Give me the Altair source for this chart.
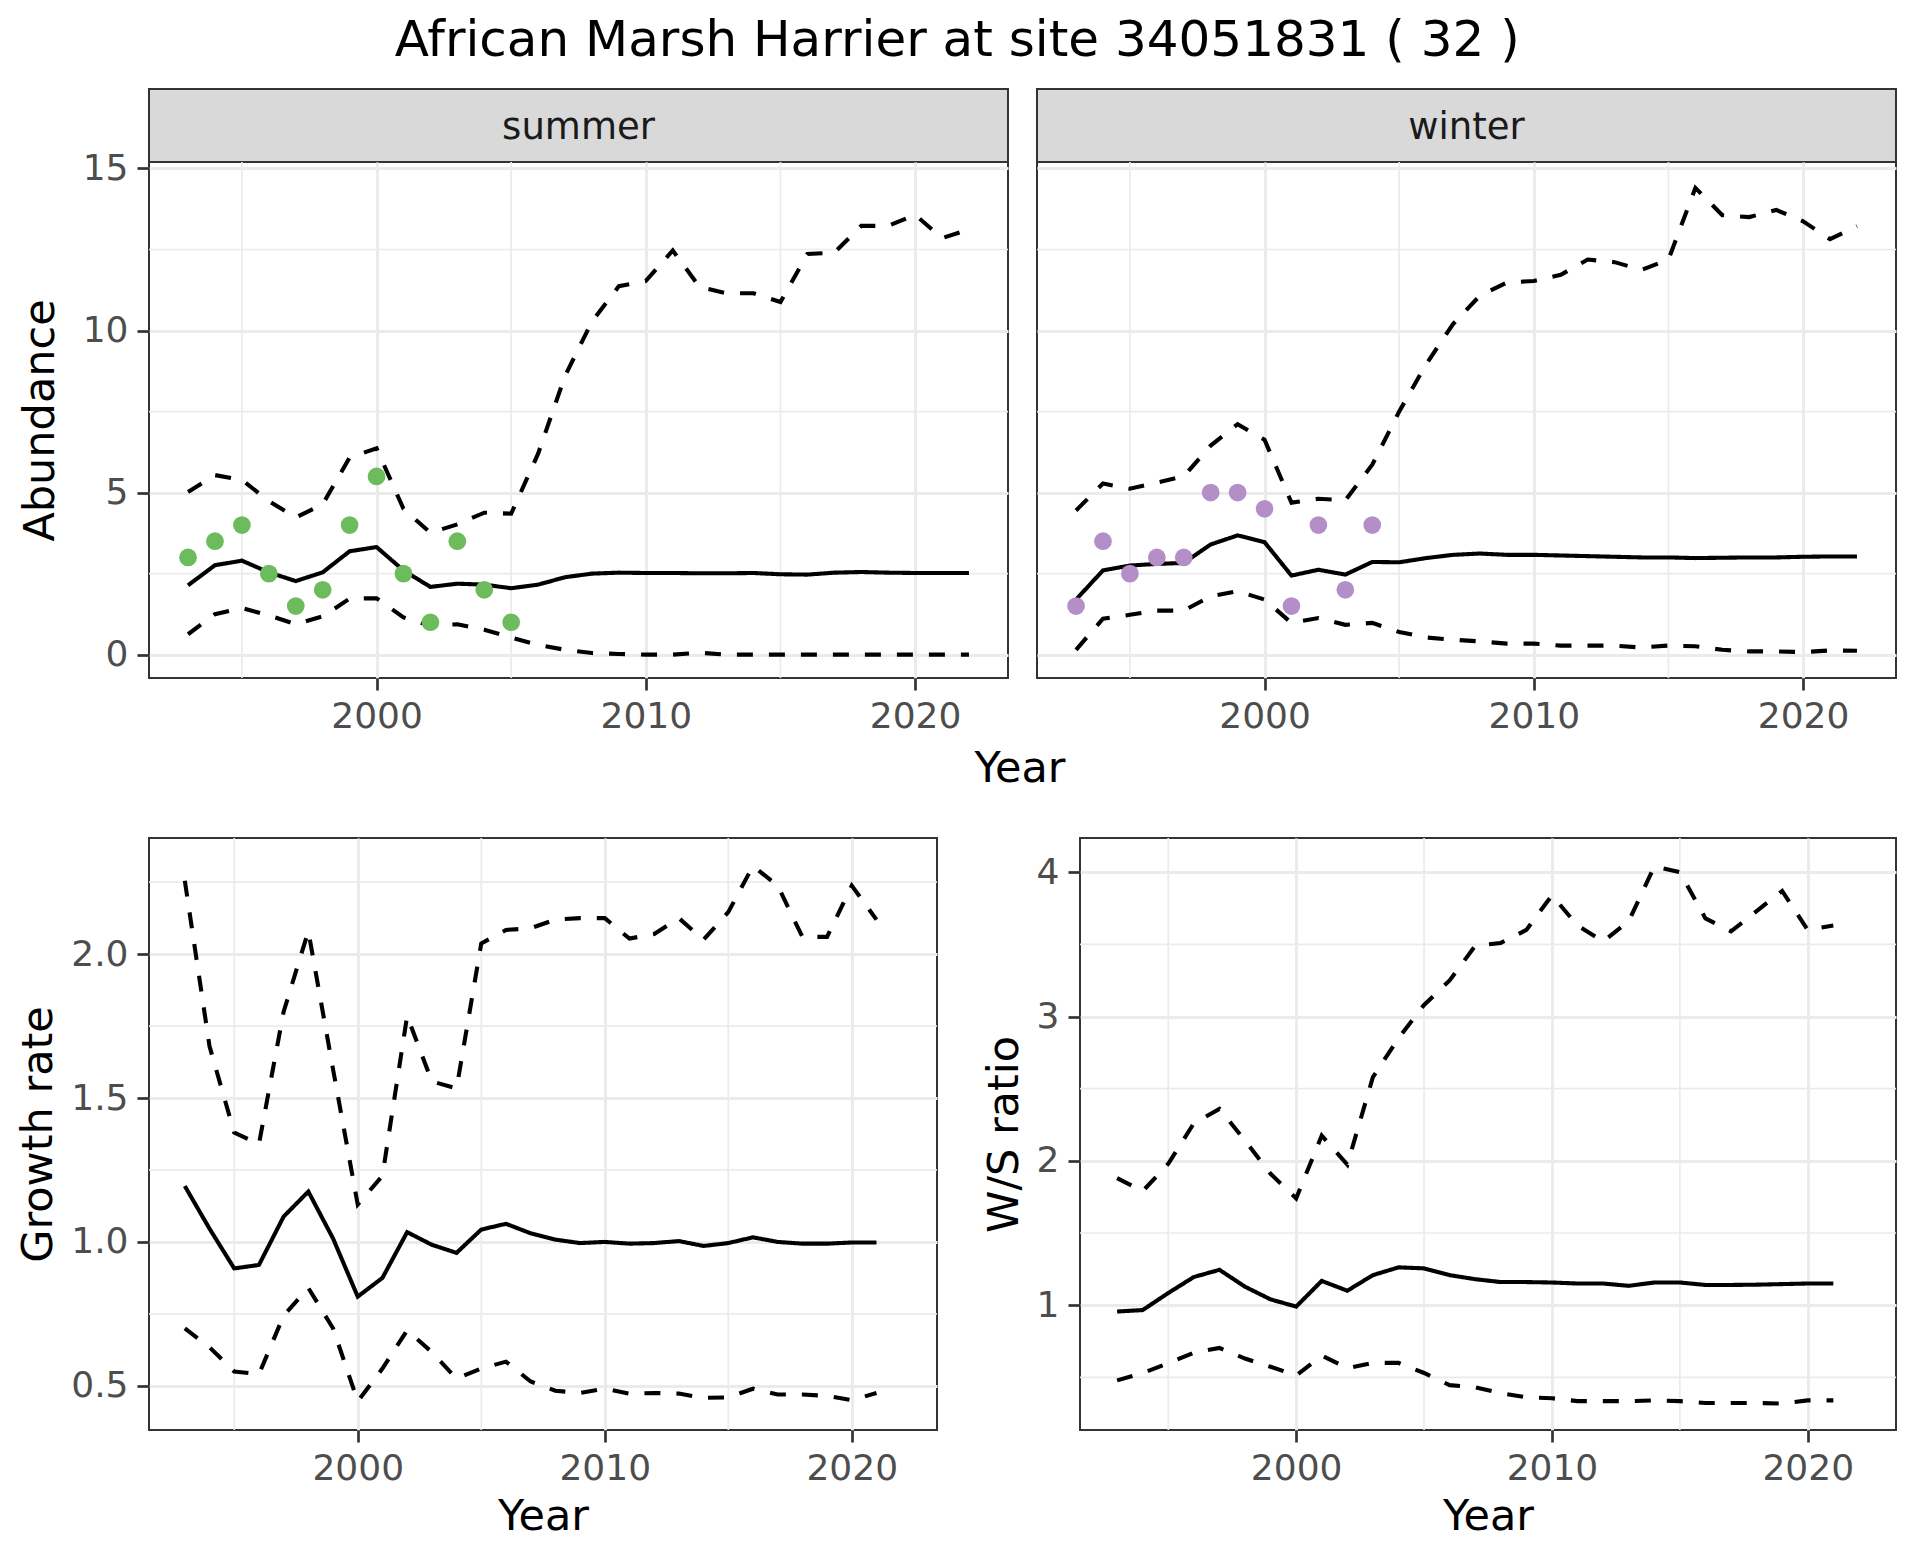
import altair as alt
import pandas as pd

FONT = "DejaVu Sans"
GRID = "#EBEBEB"
BORDER = "#333333"

YEARS = list(range(1993, 2023))
GR_YEARS = list(range(1993, 2022))
X_TICKS = [2000, 2010, 2020]
X_MINOR = [1995, 2005, 2015]
X_DOMAIN = [1991.55, 2023.45]

SUMMER_LO = [0.63, 1.25, 1.44, 1.21, 0.94, 1.18, 1.73, 1.74, 1.15, 0.89,
             0.94, 0.77, 0.53, 0.30, 0.15, 0.05, 0.02, 0.0, 0.0, 0.06,
             0.0, 0.0, 0.0, 0.0, 0.0, 0.0, 0.0, 0.0, 0.0, 0.0]
SUMMER_MED = [2.14, 2.76, 2.90, 2.54, 2.27, 2.54, 3.19, 3.32, 2.60, 2.09,
              2.19, 2.16, 2.05, 2.16, 2.39, 2.50, 2.53, 2.52, 2.52, 2.51,
              2.51, 2.52, 2.48, 2.47, 2.53, 2.55, 2.53, 2.52, 2.52, 2.52]
SUMMER_HI = [5.02, 5.54, 5.39, 4.74, 4.23, 4.64, 6.08, 6.37, 4.50, 3.76,
             4.02, 4.38, 4.35, 6.20, 8.60, 10.28, 11.37, 11.53, 12.47, 11.34,
             11.15, 11.15, 10.88, 12.36, 12.40, 13.23, 13.23, 13.57, 12.85, 13.12]
SUMMER_OBS_YEARS = [1993, 1994, 1995, 1996, 1997, 1998, 1999, 2000, 2001, 2002, 2003, 2004, 2005]
SUMMER_OBS = [3, 3.5, 4, 2.5, 1.5, 2, 4, 5.5, 2.5, 1, 3.5, 2, 1]

WINTER_LO = [0.15, 1.11, 1.23, 1.36, 1.36, 1.80, 1.96, 1.70, 0.98, 1.13,
             0.92, 0.98, 0.70, 0.53, 0.46, 0.41, 0.34, 0.34, 0.28, 0.28,
             0.28, 0.22, 0.28, 0.26, 0.15, 0.10, 0.10, 0.08, 0.13, 0.12]
WINTER_MED = [1.70, 2.60, 2.75, 2.80, 2.83, 3.40, 3.68, 3.47, 2.44, 2.62,
              2.47, 2.86, 2.85, 2.98, 3.08, 3.12, 3.08, 3.08, 3.06, 3.04,
              3.02, 3.00, 3.00, 2.98, 2.99, 3.00, 3.00, 3.02, 3.03, 3.03]
WINTER_HI = [4.45, 5.28, 5.12, 5.31, 5.50, 6.45, 7.11, 6.63, 4.69, 4.81,
             4.76, 5.86, 7.50, 8.96, 10.20, 11.08, 11.48, 11.53, 11.72, 12.19,
             12.11, 11.87, 12.19, 14.40, 13.56, 13.50, 13.72, 13.37, 12.82, 13.22]
WINTER_OBS_YEARS = [1993, 1994, 1995, 1996, 1997, 1998, 1999, 2000, 2001, 2002, 2003, 2004]
WINTER_OBS = [1.5, 3.5, 2.5, 3, 3, 5, 5, 4.5, 1.5, 4, 2, 4]

GR_LO = [0.70, 0.634, 0.55, 0.54, 0.744, 0.84, 0.70, 0.446, 0.56, 0.693,
         0.617, 0.525, 0.56, 0.584, 0.515, 0.483, 0.475, 0.49, 0.473, 0.475,
         0.473, 0.458, 0.46, 0.49, 0.47, 0.47, 0.465, 0.45, 0.475]
GR_MED = [1.194, 1.046, 0.908, 0.92, 1.088, 1.175, 1.012, 0.81, 0.875, 1.034,
          0.99, 0.962, 1.043, 1.063, 1.03, 1.008, 0.996, 1.0, 0.994, 0.996,
          1.003, 0.986, 0.996, 1.016, 1.0, 0.994, 0.994, 0.998, 0.998]
GR_HI = [2.255, 1.68, 1.38, 1.34, 1.80, 2.08, 1.60, 1.13, 1.23, 1.785,
         1.558, 1.533, 2.037, 2.084, 2.09, 2.12, 2.125, 2.125, 2.054, 2.07,
         2.125, 2.05, 2.146, 2.306, 2.238, 2.06, 2.06, 2.238, 2.12]

WS_LO = [0.479, 0.53, 0.597, 0.671, 0.704, 0.63, 0.573, 0.513, 0.65, 0.564,
         0.60, 0.60, 0.53, 0.446, 0.43, 0.39, 0.362, 0.355, 0.335, 0.335,
         0.335, 0.34, 0.335, 0.322, 0.322, 0.322, 0.318, 0.34, 0.34]
WS_MED = [0.956, 0.966, 1.084, 1.195, 1.245, 1.128, 1.04, 0.99, 1.168, 1.10,
          1.208, 1.262, 1.255, 1.208, 1.18, 1.16, 1.16, 1.157, 1.15, 1.15,
          1.134, 1.157, 1.157, 1.14, 1.14, 1.142, 1.146, 1.15, 1.15]
WS_HI = [1.88, 1.79, 1.98, 2.26, 2.36, 2.14, 1.91, 1.74, 2.175, 1.974,
         2.58, 2.85, 3.08, 3.25, 3.49, 3.51, 3.60, 3.84, 3.63, 3.52,
         3.66, 4.04, 4.00, 3.68, 3.59, 3.73, 3.87, 3.60, 3.63]

AB_TICKS = [0, 5, 10, 15]
AB_MINOR = [2.5, 7.5, 12.5]
GR_TICKS = [0.5, 1.0, 1.5, 2.0]
GR_MINOR = [0.75, 1.25, 1.75, 2.25]
WS_TICKS = [1, 2, 3, 4]
WS_MINOR = [0.5, 1.5, 2.5, 3.5]


def bands(years, lo, med, hi):
    n = len(years)
    return pd.DataFrame({
        "Year": list(years) * 3,
        "value": list(lo) + list(med) + list(hi),
        "band": ["lower"] * n + ["median"] * n + ["upper"] * n,
    })


def panel(df, pts, pt_color, ydom, yticks, yminor, yfmt, ytitle, show_y, xtitle, w, h,
          ytitle_pad=10):
    xs = alt.Scale(domain=X_DOMAIN, nice=False, zero=False)
    ys = alt.Scale(domain=ydom, nice=False, zero=False)
    if xtitle:
        xaxis = alt.Axis(values=X_TICKS, format="d", title=xtitle)
    else:
        xaxis = alt.Axis(values=X_TICKS, format="d", title=None)
    if show_y:
        yaxis = alt.Axis(values=yticks, format=yfmt, title=ytitle, titlePadding=ytitle_pad)
    else:
        yaxis = alt.Axis(values=yticks, labels=False, ticks=False, title=None)
    x = alt.X("Year:Q", scale=xs, axis=xaxis)
    y = alt.Y("value:Q", scale=ys, axis=yaxis)
    vminor = alt.Chart(pd.DataFrame({"Year": X_MINOR})).mark_rule(
        color=GRID, strokeWidth=1.7).encode(x=x)
    hminor = alt.Chart(pd.DataFrame({"value": yminor})).mark_rule(
        color=GRID, strokeWidth=1.7).encode(y=y)
    lines = alt.Chart(df).mark_line(color="black", strokeWidth=4.1).encode(
        x=x, y=y, detail="band:N",
        strokeDash=alt.StrokeDash(
            "band:N",
            scale=alt.Scale(domain=["lower", "median", "upper"],
                            range=[[16, 16], [1, 0], [16, 16]]),
            legend=None))
    layers = [vminor, hminor, lines]
    if pts is not None:
        layers.append(alt.Chart(pts).mark_circle(size=314, opacity=1, color=pt_color).encode(x=x, y=y))
    return alt.layer(*layers).properties(width=w, height=h)


def strip(label, w, h):
    return alt.Chart(pd.DataFrame({"label": [label]})).mark_text(
        font=FONT, fontSize=37, color="#1A1A1A", align="center", baseline="middle"
    ).encode(text="label:N", x=alt.value(w / 2), y=alt.value(h / 2 + 2)).properties(
        width=w, height=h,
        view=alt.ViewBackground(fill="#D9D9D9", stroke=BORDER, strokeWidth=2))


TOP_W, TOP_H, STRIP_H = 859, 516, 73
AB_DOM = [-0.72, 15.2]

summer = panel(bands(YEARS, SUMMER_LO, SUMMER_MED, SUMMER_HI),
               pd.DataFrame({"Year": SUMMER_OBS_YEARS, "value": SUMMER_OBS}),
               "#6CBB5C", AB_DOM, AB_TICKS, AB_MINOR, "d", "Abundance", True, None,
               TOP_W, TOP_H, ytitle_pad=20)
winter = panel(bands(YEARS, WINTER_LO, WINTER_MED, WINTER_HI),
               pd.DataFrame({"Year": WINTER_OBS_YEARS, "value": WINTER_OBS}),
               "#B48FC7", AB_DOM, AB_TICKS, AB_MINOR, "d", "Abundance", False, None,
               TOP_W, TOP_H)

top = alt.hconcat(
    alt.vconcat(strip("summer", TOP_W, STRIP_H), summer, spacing=0, bounds="flush"),
    alt.vconcat(strip("winter", TOP_W, STRIP_H), winter, spacing=0, bounds="flush"),
    spacing=25,
).properties(title=alt.TitleParams("Year", orient="bottom", anchor="middle", font=FONT,
                                   fontSize=43, fontWeight="normal", color="black",
                                   dx=62, offset=13))

growth = panel(bands(GR_YEARS, GR_LO, GR_MED, GR_HI), None, None,
               [0.3465, 2.4035], GR_TICKS, GR_MINOR, ".1f", "Growth rate", True, "Year",
               788, 592)
ratio = panel(bands(GR_YEARS, WS_LO, WS_MED, WS_HI), None, None,
              [0.135, 4.237], WS_TICKS, WS_MINOR, "d", "W/S ratio", True, "Year",
              816, 592)

bottom = alt.hconcat(growth, ratio, spacing=43)

chart = alt.concat(top, bottom, columns=1, spacing=45).properties(
    title=alt.TitleParams("African Marsh Harrier at site 34051831 ( 32 )", anchor="middle",
                          font=FONT, fontSize=50, fontWeight="normal", color="black",
                          offset=22),
    padding={"left": 8, "top": 8, "right": 5, "bottom": 5},
).configure_axis(
    labelFont=FONT, titleFont=FONT, labelFontSize=36, titleFontSize=43,
    labelColor="#4D4D4D", titleColor="black", titleFontWeight="normal",
    tickColor=BORDER, tickWidth=2.7, tickSize=12, gridColor=GRID, gridWidth=3,
    domain=False, labelPadding=9,
).configure_axisX(titlePadding=9).configure_view(
    stroke=BORDER, strokeWidth=2
)

chart.save("out.html", embed_options={"renderer": "svg", "actions": False})
